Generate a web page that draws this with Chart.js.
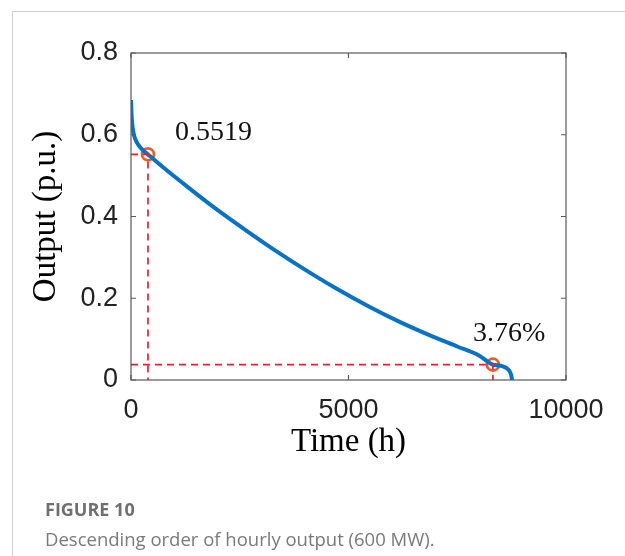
<!DOCTYPE html>
<html>
<head>
<meta charset="utf-8">
<script src="https://cdn.jsdelivr.net/npm/chart.js@4"></script>
<style>
  body { margin: 0; background: #fff; width: 625px; height: 556px; overflow: hidden; position: relative; }
  .frame { position: absolute; left: 12px; top: 11px; width: 620px; height: 600px; border: 1px solid #cfcfcf; }
  #chart { position: absolute; left: 0; top: 0; }
  .fig { position: absolute; left: 45px; top: 497px; font-family: 'Open Sans', sans-serif; font-weight: 700; font-size: 18px; color: #707070; }
  .cap { position: absolute; left: 45px; top: 526px; font-family: 'Open Sans', sans-serif; font-size: 18.5px; color: #7a7a7a; }
</style>
</head>
<body>
<div class="frame"></div>
<canvas id="chart" width="625" height="556"></canvas>
<div class="fig">FIGURE 10</div>
<div class="cap">Descending order of hourly output (600 MW).</div>
<script>
// duration curve
const hours  = [0, 8, 25, 60, 140, 250, 400, 800, 1200, 1900, 2700, 3400, 4000, 4700, 5500, 6200, 6900, 7500, 8000, 8320, 8500, 8620, 8700, 8740, 8760];
const output = [0.685, 0.66, 0.63, 0.603, 0.58, 0.565, 0.551, 0.515, 0.481, 0.423, 0.362, 0.311, 0.270, 0.225, 0.178, 0.141, 0.108, 0.082, 0.060, 0.0376, 0.035, 0.030, 0.022, 0.012, 0];

// marked points
const markHours  = [390, 8320];
const markOutput = [0.5519, 0.0376];
const markLabels = ['0.5519', '3.76%'];

// tick values
const xTicks = [0, 5000, 10000];
const yTicks = [0, 0.2, 0.4, 0.6, 0.8];

const curve = hours.map((h, i) => ({ x: h, y: output[i] }));
const marks = markHours.map((h, i) => ({ x: h, y: markOutput[i] }));
const guide = i => [{ x: 0, y: markOutput[i] }, { x: markHours[i], y: markOutput[i] }, { x: markHours[i], y: 0 }];

const dashStyle = {
    showLine: true, pointRadius: 0, borderColor: '#e3242b', borderWidth: 1.7,
    borderDash: [7, 5], fill: false, tension: 0
};

// box around the plot with inward ticks, plus the two text notes
const boxPlugin = {
    id: 'box',
    afterDatasetsDraw(chart) {
        const { ctx, chartArea: a, scales: { x, y } } = chart;
        ctx.save();
        ctx.strokeStyle = '#5a5a5a';
        ctx.lineWidth = 1.2;
        ctx.strokeRect(a.left, a.top, a.right - a.left, a.bottom - a.top);
        ctx.beginPath();
        xTicks.forEach(v => {
            const px = x.getPixelForValue(v);
            ctx.moveTo(px, a.bottom); ctx.lineTo(px, a.bottom - 5);
            ctx.moveTo(px, a.top); ctx.lineTo(px, a.top + 5);
        });
        yTicks.forEach(v => {
            const py = y.getPixelForValue(v);
            ctx.moveTo(a.left, py); ctx.lineTo(a.left + 5, py);
            ctx.moveTo(a.right, py); ctx.lineTo(a.right - 5, py);
        });
        ctx.stroke();

        ctx.fillStyle = '#111';
        ctx.font = '28px "Liberation Serif", "Times New Roman", serif';
        ctx.textBaseline = 'alphabetic';
        ctx.fillText(markLabels[0], x.getPixelForValue(1010), y.getPixelForValue(0.587));
        ctx.fillText(markLabels[1], x.getPixelForValue(7860), y.getPixelForValue(0.095));
        ctx.restore();
    }
};

const ctx = document.getElementById('chart').getContext('2d');
const chart = new Chart(ctx, {
    type: 'scatter',
    data: {
        datasets: [
            Object.assign({ data: guide(0) }, dashStyle),
            Object.assign({ data: guide(1) }, dashStyle),
            {
                data: curve,
                showLine: true,
                pointRadius: 0,
                borderColor: '#0a72c2',
                borderWidth: 4,
                cubicInterpolationMode: 'monotone',
                fill: false
            },
            {
                data: marks,
                showLine: false,
                pointRadius: 6,
                pointBorderWidth: 2.6,
                pointBorderColor: '#f05a22',
                pointBackgroundColor: 'rgba(0,0,0,0)'
            }
        ]
    },
    options: {
        responsive: false,
        animation: false,
        layout: { padding: { top: 53, right: 59, bottom: 94, left: 0 } },
        plugins: { legend: { display: false }, tooltip: { enabled: false } },
        scales: {
            x: {
                type: 'linear', min: 0, max: 10000,
                afterBuildTicks: s => { s.ticks = xTicks.map(v => ({ value: v })); },
                afterFit: s => { s.height = 82; },
                grid: { display: false, drawTicks: false },
                border: { display: false },
                ticks: {
                    padding: 14, color: '#222', maxRotation: 0,
                    font: { family: '"Liberation Sans", Arial, sans-serif', size: 27 },
                    callback: v => String(v)
                },
                title: {
                    display: true, text: 'Time (h)', color: '#000',
                    padding: { top: 0, bottom: 0 },
                    font: { family: '"Liberation Serif", "Times New Roman", serif', size: 33 }
                }
            },
            y: {
                min: 0, max: 0.8,
                afterBuildTicks: s => { s.ticks = yTicks.map(v => ({ value: v })); },
                afterFit: s => { s.width = 131; },
                grid: { display: false, drawTicks: false },
                border: { display: false },
                ticks: {
                    padding: 13, color: '#222',
                    font: { family: '"Liberation Sans", Arial, sans-serif', size: 27 },
                    callback: v => v === 0 ? '0' : v.toFixed(1)
                },
                title: {
                    display: true, text: 'Output (p.u.)', color: '#000',
                    padding: { top: 27, bottom: 0 },
                    font: { family: '"Liberation Serif", "Times New Roman", serif', size: 33 }
                }
            }
        }
    },
    plugins: [boxPlugin]
});
</script>
</body>
</html>
